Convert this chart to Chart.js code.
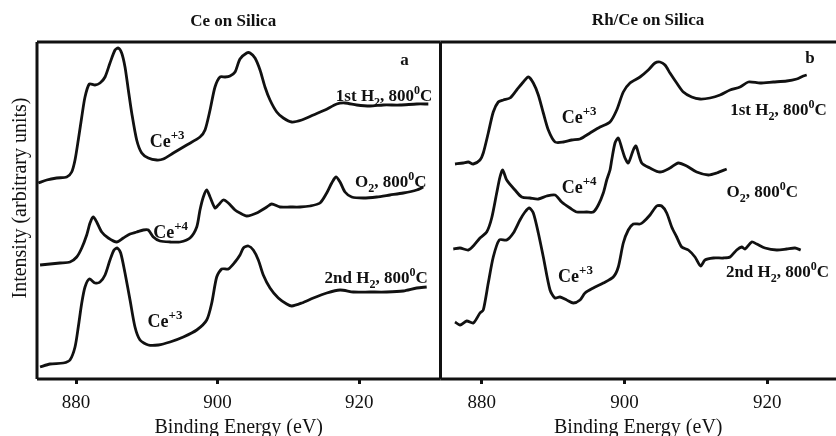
<!DOCTYPE html>
<html lang="en">
<head>
<meta charset="UTF-8" />
<title>Ce 3d XPS</title>
<script src="https://cdn.jsdelivr.net/npm/chart.js@4.4.0/dist/chart.umd.min.js"></script>
<style>
  html, body { margin: 0; padding: 0; background: #fff; }
  #wrap { position: relative; width: 836px; height: 436px; overflow: hidden; }
  canvas { position: absolute; left: 0; top: 0; }
</style>
</head>
<body>
<div id="wrap">
  <canvas id="chart-a" width="836" height="436"></canvas>
  <canvas id="chart-b" width="836" height="436"></canvas>
</div>
<script>
// binding energy ticks (eV)
const energyTicks = [880, 900, 920];

// panel a: Ce on silica
const aH1Energy = [874.68, 875.86, 877.27, 878.69, 879.39, 879.86, 880.32, 880.81, 881.27, 881.88, 882.68, 883.39, 884.10, 884.80, 885.51, 885.97, 886.45, 886.92, 887.39, 887.87, 888.57, 889.28, 890.21, 891.40, 892.33, 893.74, 895.64, 897.51, 898.22, 898.93, 899.63, 900.34, 901.05, 901.75, 902.46, 903.16, 904.11, 904.58, 905.28, 905.99, 906.69, 907.40, 908.35, 909.28, 910.47, 911.88, 913.52, 915.17, 916.82, 917.99, 919.65, 921.53, 923.40, 925.76, 928.12, 929.76];
const aH1Int = [196, 199, 201, 202, 207, 219, 239, 262, 282, 295, 294, 296, 302, 316, 329, 331, 326, 312, 289, 266, 239, 226, 221, 219, 220, 226, 234, 242, 249, 269, 292, 302, 302, 303, 307, 320, 326, 326, 321, 309, 292, 279, 267, 261, 257, 259, 264, 269, 275, 276, 274, 273, 274, 274, 275, 275];

const aO2Energy = [874.92, 876.33, 877.74, 879.15, 880.10, 880.81, 881.51, 881.98, 882.44, 882.92, 883.63, 884.56, 885.75, 886.68, 887.63, 888.57, 889.51, 890.21, 890.92, 891.86, 893.28, 894.69, 896.10, 897.05, 897.51, 897.98, 898.46, 898.93, 899.63, 900.10, 900.81, 901.51, 902.46, 903.16, 904.11, 905.52, 906.94, 907.64, 908.81, 910.23, 911.64, 913.05, 914.46, 915.41, 916.12, 916.72, 917.29, 917.99, 918.94, 920.58, 922.47, 924.35, 926.23, 928.12, 929.06];
const aO2Int = [114, 115, 116, 117, 122, 131, 144, 156, 162, 157, 147, 141, 137, 141, 145, 147, 149, 149, 142, 138, 137, 137, 141, 152, 169, 182, 189, 182, 171, 174, 179, 176, 169, 166, 163, 166, 172, 175, 172, 172, 172, 173, 176, 186, 196, 202, 197, 187, 182, 181, 182, 184, 186, 189, 192];

const aH2Energy = [874.92, 876.33, 878.21, 879.15, 879.86, 880.32, 880.81, 881.27, 881.88, 882.68, 883.39, 884.10, 884.80, 885.37, 885.83, 886.31, 886.92, 887.63, 888.33, 889.04, 890.21, 891.62, 893.28, 895.16, 897.05, 898.46, 899.17, 899.87, 900.58, 901.51, 902.46, 903.16, 903.64, 904.34, 905.04, 905.75, 906.45, 907.40, 908.57, 909.76, 910.47, 911.88, 913.52, 915.41, 917.29, 919.17, 921.53, 923.88, 926.23, 928.12, 929.53];
const aH2Int = [12, 15, 16, 19, 32, 52, 76, 92, 100, 96, 97, 104, 119, 129, 131, 126, 106, 79, 52, 39, 34, 34, 37, 42, 49, 59, 76, 102, 110, 110, 117, 124, 131, 133, 129, 119, 104, 91, 81, 75, 73, 76, 81, 86, 89, 87, 87, 87, 88, 91, 92];

// panel b: Rh/Ce on silica
const bH1Energy = [876.26, 877.42, 878.12, 878.82, 879.76, 880.22, 880.92, 881.62, 882.32, 883.03, 883.96, 884.90, 885.83, 886.53, 887.23, 887.93, 888.63, 889.33, 890.27, 891.43, 892.61, 893.77, 895.17, 896.57, 897.97, 898.91, 899.83, 900.77, 902.17, 903.33, 904.27, 904.97, 905.67, 906.37, 907.31, 908.24, 909.41, 910.57, 911.97, 913.38, 914.78, 916.18, 917.34, 918.98, 920.84, 922.72, 924.12, 925.04, 925.52];
const bH1Int = [215, 216, 217, 215, 219, 226, 246, 267, 277, 279, 281, 289, 297, 302, 296, 284, 266, 249, 237, 237, 239, 240, 246, 252, 257, 269, 287, 296, 302, 309, 316, 317, 314, 306, 296, 287, 282, 280, 281, 284, 289, 292, 297, 296, 297, 298, 300, 303, 304];

const bO2Energy = [876.02, 876.96, 878.12, 878.82, 879.76, 880.70, 881.40, 882.10, 882.56, 882.94, 883.50, 884.66, 885.60, 886.76, 887.93, 889.10, 890.27, 891.20, 892.37, 893.31, 894.71, 895.63, 896.33, 897.03, 897.51, 897.97, 898.21, 898.67, 899.13, 899.61, 900.07, 900.53, 901.23, 901.61, 902.41, 903.57, 904.97, 906.37, 907.53, 908.71, 910.11, 911.74, 912.91, 914.31];
const bO2Int = [130, 131, 129, 133, 141, 147, 161, 186, 202, 209, 199, 189, 182, 181, 180, 183, 184, 177, 171, 167, 167, 167, 174, 186, 199, 209, 219, 236, 241, 231, 221, 216, 229, 233, 216, 211, 207, 211, 216, 213, 207, 204, 206, 210];

const bH2Energy = [876.26, 876.96, 877.90, 878.82, 879.76, 880.22, 880.92, 881.62, 882.46, 883.50, 884.43, 885.36, 886.06, 886.67, 887.23, 887.93, 888.63, 889.57, 890.27, 890.97, 891.90, 892.83, 893.77, 894.47, 895.63, 897.03, 898.43, 899.13, 899.83, 900.53, 901.23, 902.17, 902.63, 903.57, 904.51, 905.21, 905.91, 906.61, 907.31, 908.01, 908.94, 909.87, 910.67, 911.27, 912.44, 913.84, 914.78, 915.71, 916.41, 916.88, 917.82, 918.52, 919.68, 921.32, 922.72, 923.88, 924.68];
const bH2Int = [57, 54, 58, 56, 66, 69, 96, 122, 139, 139, 146, 159, 167, 171, 166, 146, 122, 89, 81, 82, 79, 76, 79, 86, 91, 96, 102, 112, 136, 149, 155, 155, 157, 164, 173, 173, 166, 152, 142, 132, 129, 122, 113, 119, 121, 121, 122, 129, 132, 130, 137, 135, 131, 129, 130, 131, 129];

const serif = '"Liberation Serif", "Times New Roman", serif';
const ink = "#111";

function pts(e, i) {
  return e.map((v, k) => ({ x: v, y: i[k] }));
}

function line(label, e, i) {
  return {
    label: label,
    data: pts(e, i),
    borderColor: ink,
    borderWidth: 2.8,
    pointRadius: 0,
    tension: 0.25,
    fill: false,
  };
}

// rich text: [text, mode] with mode "sub" / "sup"
function drawRich(ctx, x, y, parts, size, weight, align) {
  const font = (m) => weight + " " + (m ? Math.round(size * 0.7) : size) + "px " + serif;
  const widths = parts.map(([t, m]) => {
    ctx.font = font(m);
    return ctx.measureText(t).width;
  });
  const total = widths.reduce((a, b) => a + b, 0);
  let cx = align === "center" ? x - total / 2 : x;
  ctx.textAlign = "left";
  ctx.textBaseline = "alphabetic";
  parts.forEach(([t, m], k) => {
    ctx.font = font(m);
    const dy = m === "sub" ? size * 0.3 : m === "sup" ? -size * 0.42 : 0;
    ctx.fillText(t, cx, y + dy);
    cx += widths[k];
  });
}

const textPlugin = {
  id: "panelText",
  afterDatasetsDraw(chart, args, opts) {
    const ctx = chart.ctx;
    const a = chart.chartArea;
    const sx = chart.scales.x;
    const sy = chart.scales.y;
    ctx.save();
    // frame
    ctx.strokeStyle = ink;
    ctx.lineWidth = 3;
    ctx.beginPath();
    ctx.moveTo(a.left, a.top);
    ctx.lineTo(a.right, a.top);
    ctx.moveTo(a.left, a.top);
    ctx.lineTo(a.left, a.bottom);
    ctx.moveTo(a.left, a.bottom);
    ctx.lineTo(a.right, a.bottom);
    if (opts.rightSide) {
      ctx.moveTo(a.right, a.top);
      ctx.lineTo(a.right, a.bottom);
    }
    ctx.stroke();
    ctx.fillStyle = ink;
    for (const l of opts.items) {
      const px = sx.getPixelForValue(l.x);
      const py = sy.getPixelForValue(l.y);
      if (l.rotate) {
        ctx.save();
        ctx.translate(px, py);
        ctx.rotate(-Math.PI / 2);
        drawRich(ctx, 0, 0, l.parts, l.size, l.weight || "bold", "center");
        ctx.restore();
      } else {
        drawRich(ctx, px, py, l.parts, l.size, l.weight || "bold", l.align);
      }
    }
    ctx.restore();
  },
};

const h1 = [["1st H"], ["2", "sub"], [", 800"], ["0", "sup"], ["C"]];
const h2 = [["2nd H"], ["2", "sub"], [", 800"], ["0", "sup"], ["C"]];
const o2 = [["O"], ["2", "sub"], [", 800"], ["0", "sup"], ["C"]];
const ce3 = [["Ce"], ["+3", "sup"]];
const ce4 = [["Ce"], ["+4", "sup"]];

function makeChart(id, pad, xMin, xMax, datasets, items, rightSide) {
  return new Chart(document.getElementById(id), {
    type: "line",
    data: { datasets: datasets },
    plugins: [textPlugin],
    options: {
      responsive: false,
      animation: false,
      layout: { padding: pad },
      plugins: {
        legend: { display: false },
        tooltip: { enabled: false },
        panelText: { items: items, rightSide: rightSide },
      },
      scales: {
        x: {
          type: "linear",
          min: xMin,
          max: xMax,
          afterBuildTicks: (axis) => {
            axis.ticks = energyTicks.map((v) => ({ value: v }));
          },
          afterFit: (axis) => {
            axis.height = 57;
          },
          border: { display: false },
          grid: {
            drawOnChartArea: false,
            drawTicks: true,
            tickLength: 5,
            tickWidth: 3,
            tickColor: ink,
          },
          ticks: {
            color: ink,
            padding: 8,
            maxRotation: 0,
            font: { family: serif, size: 19 },
          },
          title: {
            display: true,
            text: "Binding Energy (eV)",
            color: ink,
            padding: 0,
            font: { family: serif, size: 20, lineHeight: 0.8 },
          },
        },
        y: {
          display: false,
          min: 0,
          max: 337,
        },
      },
    },
  });
}

makeChart(
  "chart-a",
  { left: 37, right: 395.5, top: 42, bottom: 0 },
  874.49,
  931.48,
  [
    line("1st H2, 800C", aH1Energy, aH1Int),
    line("O2, 800C", aO2Energy, aO2Int),
    line("2nd H2, 800C", aH2Energy, aH2Int),
  ],
  [
    { x: 902.2, y: 353, parts: [["Ce on Silica"]], size: 17, align: "center" },
    { x: 872.94, y: 181, parts: [["Intensity (arbitrary units)"]], size: 20, weight: "normal", rotate: true },
    { x: 925.8, y: 314, parts: [["a"]], size: 17 },
    { x: 916.7, y: 278, parts: h1, size: 17 },
    { x: 890.4, y: 232, parts: ce3, size: 18 },
    { x: 919.4, y: 192, parts: o2, size: 17 },
    { x: 890.9, y: 141, parts: ce4, size: 18 },
    { x: 915.1, y: 96, parts: h2, size: 17 },
    { x: 890.1, y: 52, parts: ce3, size: 18 },
  ],
  true
);

makeChart(
  "chart-b",
  { left: 440.5, right: 0, top: 42, bottom: 0 },
  874.23,
  929.62,
  [
    line("1st H2, 800C", bH1Energy, bH1Int),
    line("O2, 800C", bO2Energy, bO2Int),
    line("2nd H2, 800C", bH2Energy, bH2Int),
  ],
  [
    { x: 903.3, y: 354, parts: [["Rh/Ce on Silica"]], size: 17, align: "center" },
    { x: 925.3, y: 316, parts: [["b"]], size: 17 },
    { x: 891.2, y: 256, parts: ce3, size: 18 },
    { x: 914.8, y: 264, parts: h1, size: 17 },
    { x: 891.2, y: 186, parts: ce4, size: 18 },
    { x: 914.3, y: 182, parts: o2, size: 17 },
    { x: 890.7, y: 97, parts: ce3, size: 18 },
    { x: 914.2, y: 102, parts: h2, size: 17 },
  ],
  false
);
</script>
</body>
</html>
